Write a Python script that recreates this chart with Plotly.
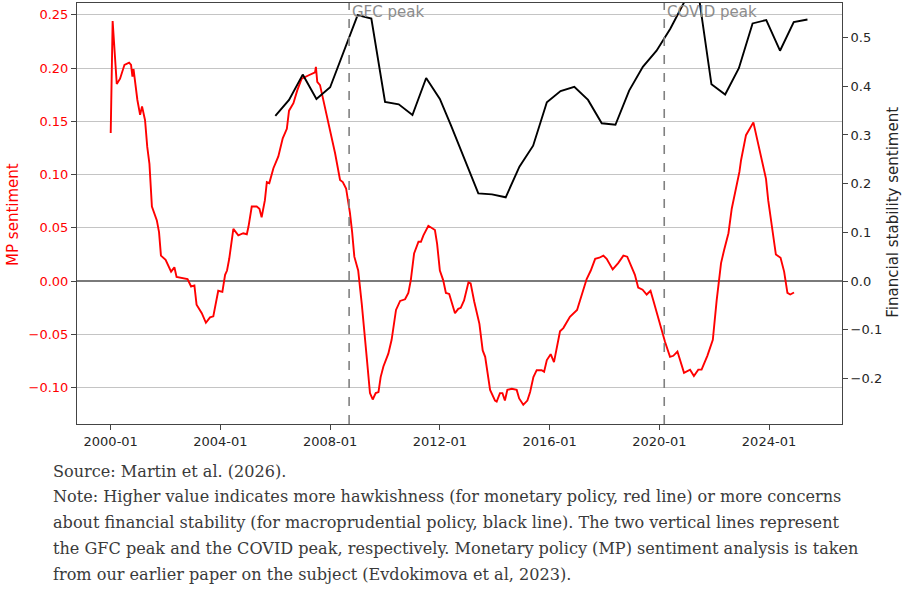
import pandas as pd
import plotly.graph_objects as go

# monetary policy sentiment (left axis)
mp_years = [
    2000.00, 2000.07, 2000.22, 2000.34, 2000.50, 2000.67, 2000.74, 2000.79, 2000.83, 2000.89,
    2000.97, 2001.07, 2001.14, 2001.25, 2001.33, 2001.41, 2001.50, 2001.68, 2001.76, 2001.83,
    2002.00, 2002.20, 2002.32, 2002.40, 2002.80, 2002.93, 2003.05, 2003.13, 2003.32, 2003.47,
    2003.62, 2003.74, 2003.92, 2004.07, 2004.17, 2004.24, 2004.32, 2004.47, 2004.65, 2004.83,
    2004.96, 2005.02, 2005.14, 2005.32, 2005.42, 2005.50, 2005.62, 2005.69, 2005.78, 2005.93,
    2006.11, 2006.27, 2006.42, 2006.50, 2006.66, 2006.80, 2006.96, 2007.20, 2007.45, 2007.48,
    2007.53, 2007.63, 2007.81, 2008.02, 2008.18, 2008.36, 2008.46, 2008.58, 2008.72, 2008.80,
    2008.88, 2009.02, 2009.15, 2009.33, 2009.45, 2009.55, 2009.66, 2009.76, 2009.84, 2009.94,
    2010.12, 2010.24, 2010.40, 2010.55, 2010.73, 2010.85, 2010.94, 2011.06, 2011.22, 2011.31,
    2011.40, 2011.58, 2011.82, 2011.90, 2012.00, 2012.12, 2012.22, 2012.34, 2012.55, 2012.67,
    2012.76, 2012.88, 2013.04, 2013.12, 2013.25, 2013.44, 2013.56, 2013.65, 2013.83, 2014.01,
    2014.07, 2014.19, 2014.28, 2014.37, 2014.46, 2014.62, 2014.80, 2014.89, 2015.04, 2015.19,
    2015.29, 2015.41, 2015.53, 2015.71, 2015.80, 2015.90, 2016.04, 2016.16, 2016.38, 2016.50,
    2016.74, 2017.00, 2017.17, 2017.35, 2017.50, 2017.66, 2017.81, 2017.96, 2018.08, 2018.30,
    2018.50, 2018.69, 2018.83, 2018.99, 2019.11, 2019.23, 2019.39, 2019.54, 2019.68, 2019.78,
    2019.90, 2020.09, 2020.21, 2020.39, 2020.51, 2020.66, 2020.75, 2020.90, 2021.12, 2021.26,
    2021.42, 2021.54, 2021.75, 2021.95, 2022.09, 2022.25, 2022.36, 2022.52, 2022.64, 2022.92,
    2022.98, 2023.16, 2023.43, 2023.65, 2023.89, 2023.97, 2024.10, 2024.25, 2024.42, 2024.55,
    2024.67, 2024.77, 2024.91,
]
mp_values = [
    0.139, 0.244, 0.185, 0.190, 0.203, 0.205, 0.203, 0.192, 0.199, 0.185,
    0.170, 0.156, 0.164, 0.151, 0.126, 0.110, 0.070, 0.057, 0.046, 0.024,
    0.020, 0.009, 0.013, 0.004, 0.002, -0.005, -0.004, -0.022, -0.030, -0.039,
    -0.034, -0.033, -0.009, -0.010, 0.006, 0.010, 0.021, 0.049, 0.043, 0.045,
    0.044, 0.051, 0.070, 0.070, 0.068, 0.060, 0.076, 0.093, 0.092, 0.106,
    0.117, 0.134, 0.143, 0.160, 0.167, 0.179, 0.190, 0.193, 0.196, 0.201,
    0.187, 0.184, 0.163, 0.137, 0.120, 0.095, 0.093, 0.087, 0.064, 0.046,
    0.023, 0.010, -0.021, -0.071, -0.105, -0.111, -0.105, -0.104, -0.090, -0.080,
    -0.068, -0.055, -0.027, -0.0185, -0.017, -0.011, 0.001, 0.026, 0.037, 0.037,
    0.043, 0.052, 0.048, 0.035, 0.010, 0.001, -0.011, -0.012, -0.030, -0.026,
    -0.025, -0.018, -0.001, -0.002, -0.019, -0.040, -0.065, -0.071, -0.102, -0.112,
    -0.113, -0.105, -0.105, -0.112, -0.102, -0.101, -0.102, -0.110, -0.116, -0.112,
    -0.104, -0.090, -0.0835, -0.0835, -0.085, -0.074, -0.0685, -0.076, -0.047, -0.044,
    -0.0335, -0.027, -0.012, 0.002, 0.010, 0.021, 0.022, 0.024, 0.021, 0.011,
    0.017, 0.024, 0.023, 0.013, 0.006, -0.006, -0.008, -0.0125, -0.009, -0.018,
    -0.029, -0.044, -0.057, -0.071, -0.070, -0.066, -0.074, -0.086, -0.083, -0.089,
    -0.083, -0.083, -0.070, -0.055, -0.018, 0.017, 0.029, 0.045, 0.068, 0.1025,
    0.1135, 0.137, 0.149, 0.124, 0.096, 0.076, 0.054, 0.025, 0.022, 0.009,
    -0.011, -0.0125, -0.0106,
]

# financial stability sentiment (right axis)
fs_years = [
    2006.0, 2006.5, 2007.0, 2007.5, 2008.0, 2008.5, 2009.0, 2009.5, 2010.0, 2010.5,
    2011.0, 2011.5, 2012.0, 2012.4, 2012.9, 2013.4, 2013.9, 2014.4, 2014.9, 2015.4,
    2015.9, 2016.4, 2016.9, 2017.4, 2017.9, 2018.4, 2018.9, 2019.4, 2019.9, 2020.4,
    2020.9, 2021.4, 2021.9, 2022.4, 2022.9, 2023.4, 2023.9, 2024.4, 2024.9, 2025.4,
]
fs_values = [
    0.339, 0.372, 0.424, 0.374, 0.398, 0.470, 0.546, 0.539, 0.368, 0.363,
    0.341, 0.417, 0.374, 0.320, 0.248, 0.180, 0.178, 0.172, 0.235, 0.278,
    0.367, 0.390, 0.399, 0.372, 0.324, 0.321, 0.391, 0.440, 0.473, 0.518,
    0.572, 0.600, 0.404, 0.383, 0.437, 0.529, 0.536, 0.473, 0.532, 0.537,
]

events = [2008.69, 2020.18]
event_labels = ["GFC peak", "COVID peak"]

note_lines = [
    "Source: Martin et al. (2026).",
    "Note: Higher value indicates more hawkishness (for monetary policy, red line) or more concerns",
    "about financial stability (for macroprudential policy, black line). The two vertical lines represent",
    "the GFC peak and the COVID peak, respectively. Monetary policy (MP) sentiment analysis is taken",
    "from our earlier paper on the subject (Evdokimova et al, 2023).",
]


def to_date(y):
    yr = int(y)
    start = pd.Timestamp(yr, 1, 1)
    return start + (pd.Timestamp(yr + 1, 1, 1) - start) * (y - yr)


fig = go.Figure()
fig.add_trace(go.Scatter(
    x=[to_date(v) for v in mp_years], y=mp_values, mode="lines",
    line=dict(color="#ff0000", width=1.9), name="MP sentiment"))
fig.add_trace(go.Scatter(
    x=[to_date(v) for v in fs_years], y=fs_values, mode="lines", yaxis="y2",
    line=dict(color="#000000", width=1.9), name="Financial stability sentiment"))

for ev, lab, w in zip(events, event_labels, [2.9, 3.4]):
    fig.add_shape(type="line", xref="x", yref="paper", x0=to_date(ev), x1=to_date(ev),
                  y0=0, y1=1, line=dict(color="#808080", width=1.6, dash="dash"))
    fig.add_shape(type="rect", xref="x", yref="paper", layer="between",
                  x0=to_date(ev + 0.05), x1=to_date(ev + w), y0=0.955, y1=0.995,
                  line=dict(width=0), fillcolor="white")
    fig.add_annotation(text=lab, xref="x", yref="paper", x=to_date(ev), y=0.979,
                       xanchor="left", yanchor="middle", xshift=1, showarrow=False,
                       font=dict(family="DejaVu Sans", size=15, color="#8c8c8c"))

fig.add_annotation(text="MP sentiment", xref="paper", yref="paper", x=-0.0837, y=0.499,
                   xanchor="center", yanchor="middle", textangle=-90, showarrow=False,
                   font=dict(family="DejaVu Sans", size=15, color="#ff0000"))
fig.add_annotation(text="Financial stability sentiment", xref="paper", yref="paper",
                   x=1.0667, y=0.502, xanchor="center", yanchor="middle",
                   textangle=-90, showarrow=False,
                   font=dict(family="DejaVu Sans", size=15, color="#262626"))

for i, line in enumerate(note_lines):
    fig.add_annotation(text=line, xref="paper", yref="paper", x=-0.034,
                       y=-0.112 if i == 0 else -0.173 - 0.0618 * (i - 1),
                       xanchor="left", yanchor="middle", showarrow=False, align="left",
                       font=dict(family="DejaVu Serif", size=16.1, color="#3a3a3a"))

fig.update_layout(
    width=910, height=599, showlegend=False,
    paper_bgcolor="white", plot_bgcolor="white",
    margin=dict(l=77, r=68, t=3, b=175),
    font=dict(family="DejaVu Sans", size=13, color="#262626"),
    xaxis=dict(
        type="date", range=[to_date(1998.77), to_date(2026.66)],
        tick0="2000-01-01", dtick="M48", tickformat="%Y-%m",
        ticks="outside", ticklen=5, tickcolor="#444", showgrid=False,
        showline=True, linecolor="#444", linewidth=1, mirror=True,
        tickfont=dict(size=13, color="#262626"),
    ),
    yaxis=dict(
        range=[-0.134, 0.261], tickvals=[-0.10, -0.05, 0, 0.05, 0.10, 0.15, 0.20, 0.25],
        tickformat=".2f", ticks="outside", ticklen=5, tickcolor="#444",
        showgrid=True, gridcolor="#c4c4c4", gridwidth=1,
        zeroline=True, zerolinecolor="#7a7a7a", zerolinewidth=1.5,
        showline=True, linecolor="#444", linewidth=1,
        tickfont=dict(size=13, color="#ff0000"),
    ),
    yaxis2=dict(
        overlaying="y", side="right", range=[-0.2936, 0.571],
        tickvals=[-0.2, -0.1, 0, 0.1, 0.2, 0.3, 0.4, 0.5], tickformat=".1f",
        ticks="outside", ticklen=5, tickcolor="#444",
        showgrid=False, zeroline=False,
        showline=True, linecolor="#444", linewidth=1,
        tickfont=dict(size=13, color="#262626"),
    ),
)

# the page body has a default 8px margin; drop it so the figure sits at the corner
fig.write_html("out.html", config={"displayModeBar": False},
               post_script="document.body.style.margin='0px';")
